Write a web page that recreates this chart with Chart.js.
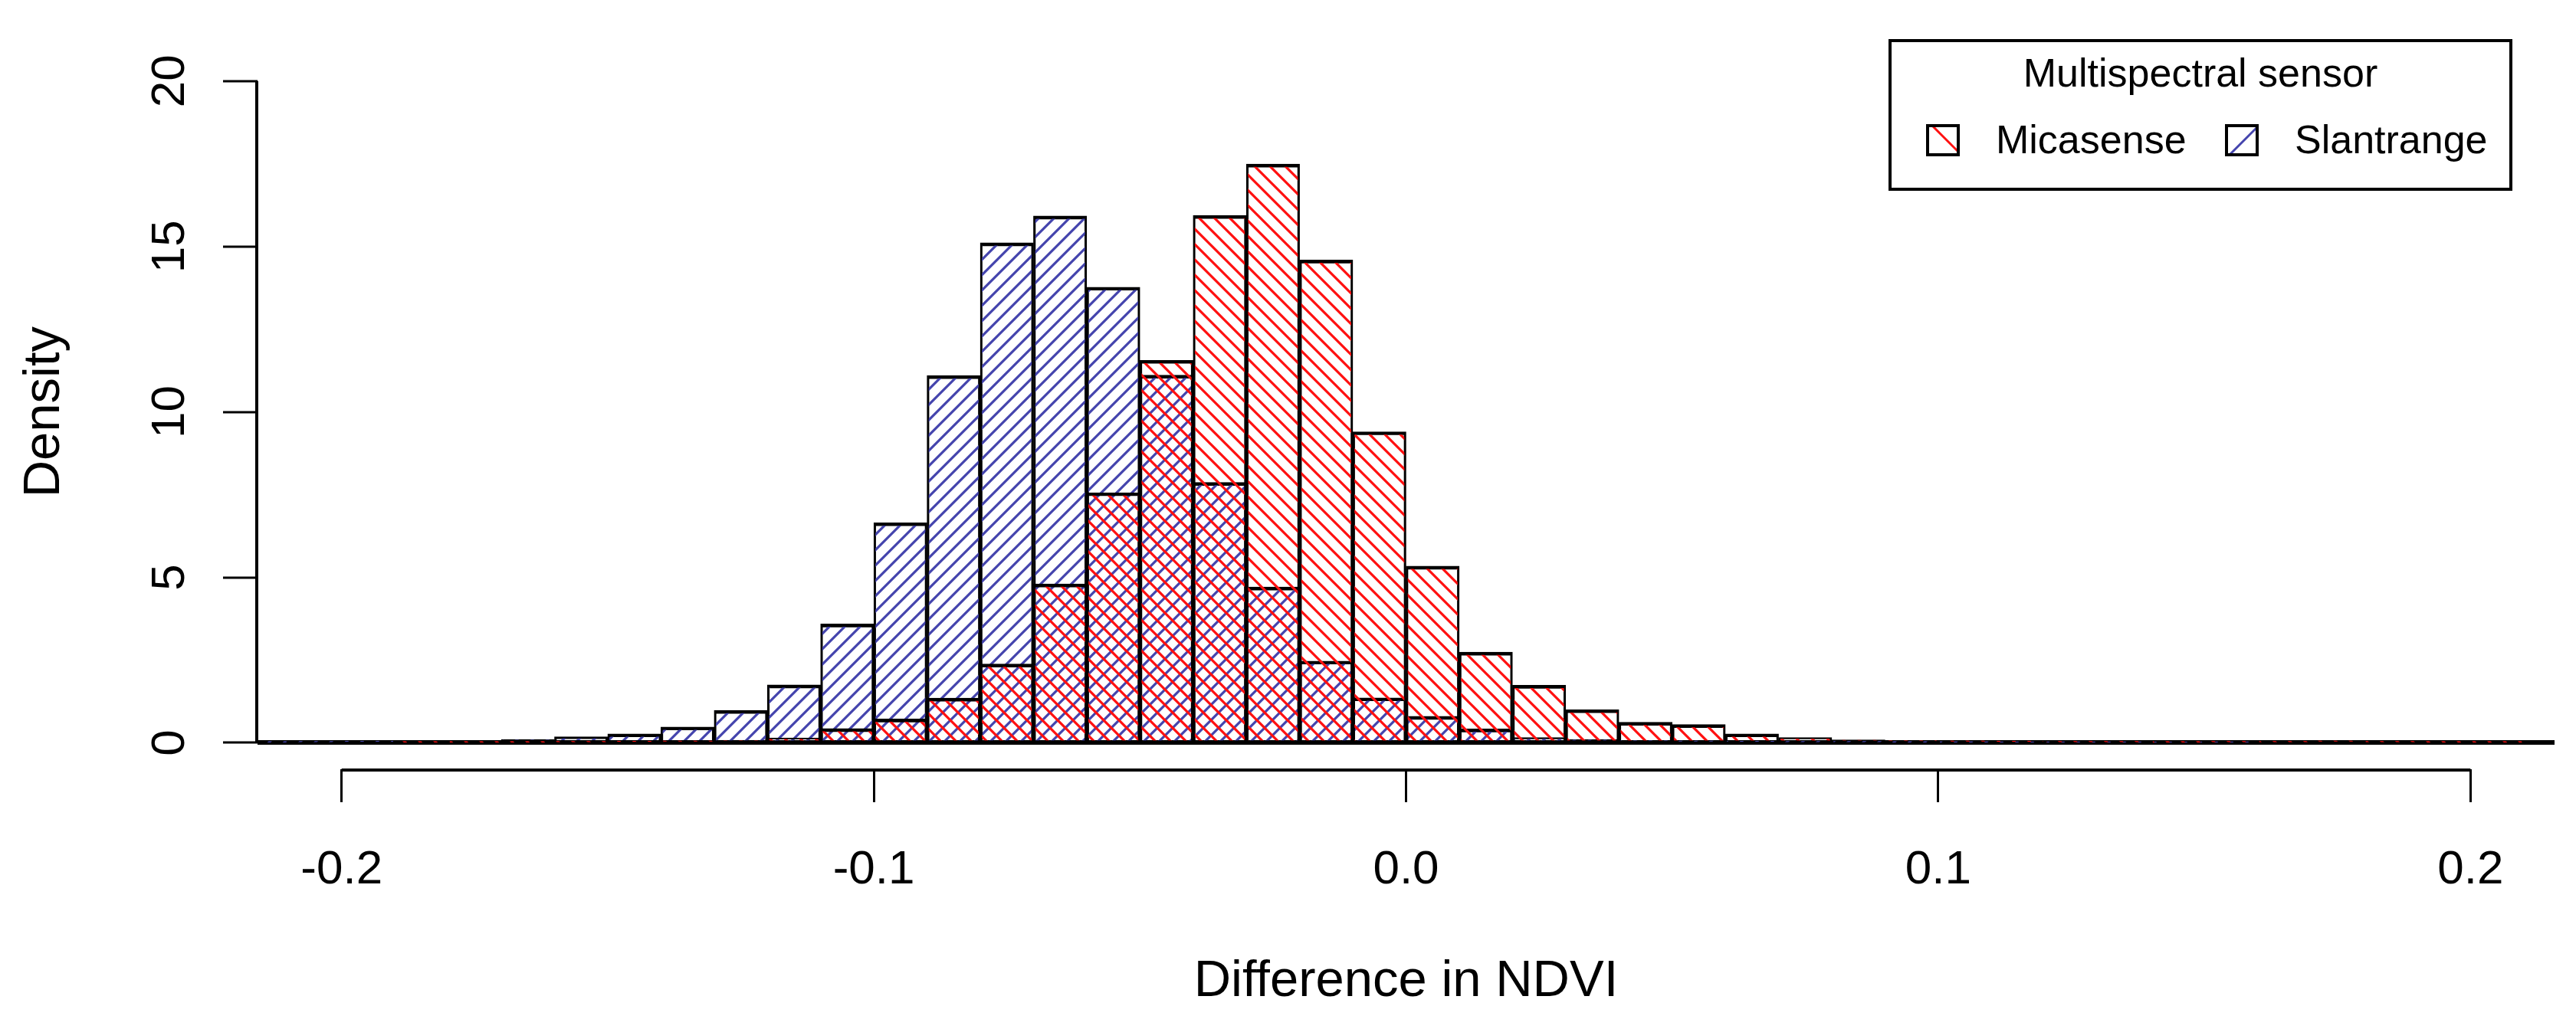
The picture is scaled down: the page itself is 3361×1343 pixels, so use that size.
<!DOCTYPE html>
<html>
<head>
<meta charset="utf-8">
<script src="https://cdn.jsdelivr.net/npm/chart.js@4/dist/chart.umd.min.js"></script>
<style>
  html, body { margin: 0; padding: 0; background: #fff; }
  #wrap { width: 3361px; height: 1343px; }
</style>
</head>
<body>
<div id="wrap"><canvas id="ndviChart" width="3361" height="1343"></canvas></div>
<script>
// histogram bins (width 0.01), given by their midpoints
const binMids = [
  -0.215, -0.205, -0.195, -0.185, -0.175, -0.165, -0.155, -0.145, -0.135, -0.125, -0.115,
  -0.105, -0.095, -0.085, -0.075, -0.065, -0.055, -0.045, -0.035, -0.025, -0.015, -0.005,
  0.005, 0.015, 0.025, 0.035, 0.045, 0.055, 0.065, 0.075, 0.085, 0.095, 0.105,
  0.115, 0.125, 0.135, 0.145, 0.155, 0.165, 0.175, 0.185, 0.195, 0.205, 0.215
];
// density per bin
const micasense = [
  0, 0, 0, 0.01, 0.01, 0.01, 0.02, 0.03, 0.04, 0.08, 0.15,
  0.43, 0.72, 1.35, 2.38, 4.80, 7.56, 11.56, 15.94, 17.49, 14.59, 9.40,
  5.34, 2.74, 1.74, 1.00, 0.62, 0.55, 0.27, 0.16, 0.09, 0.05, 0.04,
  0.03, 0.02, 0.02, 0.01, 0.02, 0.02, 0.04, 0.02, 0.01, 0.01, 0
];
const slantrange = [
  0.01, 0.02, 0.03, 0.04, 0.06, 0.10, 0.18, 0.27, 0.48, 0.98, 1.75,
  3.59, 6.65, 11.10, 15.11, 15.92, 13.77, 11.11, 7.87, 4.71, 2.47, 1.36,
  0.80, 0.42, 0.16, 0.10, 0.05, 0.04, 0.03, 0.02, 0.02, 0.01, 0.01,
  0.01, 0.01, 0.01, 0.01, 0.01, 0, 0, 0, 0, 0, 0
];
const seriesNames = ["Micasense", "Slantrange"];
const legendTitle = "Multispectral sensor";
const xTicks = [-0.2, -0.1, 0.0, 0.1, 0.2];
const yTicks = [0, 5, 10, 15, 20];

const FONT = "'Liberation Sans', Arial, Helvetica, sans-serif";
const hatchColors = ["#ff1010", "#4444ad"];
const hatchDirs = [-1, 1]; // -1 = "\", 1 = "/"

// diagonal line pattern like R's density shading
function hatch(color, dir) {
  const s = 20;
  const c = document.createElement("canvas");
  c.width = s;
  c.height = s;
  const g = c.getContext("2d");
  g.strokeStyle = color;
  g.lineWidth = 3.2;
  g.beginPath();
  for (let k = -1; k <= 2; k++) {
    if (dir > 0) {
      g.moveTo(-s, k * s + s);
      g.lineTo(k * s + s, -s);
    } else {
      g.moveTo(-s, k * s - s);
      g.lineTo(2 * s, k * s + 2 * s);
    }
  }
  g.stroke();
  return g.createPattern(c, "repeat");
}

const barStyle = {
  borderColor: "#000",
  borderWidth: { top: 4, left: 2.5, right: 2.5, bottom: 0 },
  borderSkipped: false,
  grouped: false,
  barPercentage: 1,
  categoryPercentage: 1,
};

// axis lines only between first and last tick, plus the boxed legend
const rDecor = {
  id: "rDecor",
  afterDraw(chart) {
    const { ctx } = chart;
    const x = chart.scales.x;
    const y = chart.scales.y;
    ctx.save();
    ctx.strokeStyle = "#000";
    ctx.lineWidth = 4;
    ctx.beginPath();
    ctx.moveTo(x.getPixelForValue(xTicks[0]), x.top + 1);
    ctx.lineTo(x.getPixelForValue(xTicks[xTicks.length - 1]), x.top + 1);
    ctx.moveTo(y.right - 1, y.getPixelForValue(yTicks[0]));
    ctx.lineTo(y.right - 1, y.getPixelForValue(yTicks[yTicks.length - 1]));
    ctx.stroke();

    // legend
    const box = { left: 2466, top: 53, width: 810, height: 194 };
    ctx.fillStyle = "#fff";
    ctx.fillRect(box.left, box.top, box.width, box.height);
    ctx.lineWidth = 4;
    ctx.strokeRect(box.left, box.top, box.width, box.height);
    ctx.fillStyle = "#000";
    ctx.font = "52px " + FONT;
    ctx.textBaseline = "middle";
    ctx.textAlign = "center";
    ctx.fillText(legendTitle, box.left + box.width / 2, 99);
    ctx.textAlign = "left";
    const swX = [2515, 2905];
    const txtX = [2604, 2994];
    chart.data.datasets.forEach((ds, i) => {
      const sx = swX[i], sy = 164, sw = 40, sh = 38;
      ctx.save();
      ctx.beginPath();
      ctx.rect(sx, sy, sw, sh);
      ctx.clip();
      ctx.strokeStyle = hatchColors[i];
      ctx.lineWidth = 3;
      ctx.beginPath();
      if (hatchDirs[i] > 0) {
        ctx.moveTo(sx + 4, sy + sh);
        ctx.lineTo(sx + sw, sy + 2);
      } else {
        ctx.moveTo(sx + 6, sy);
        ctx.lineTo(sx + sw, sy + sh - 4);
      }
      ctx.stroke();
      ctx.restore();
      ctx.strokeStyle = "#000";
      ctx.lineWidth = 4;
      ctx.strokeRect(sx, sy, sw, sh);
      ctx.fillStyle = "#000";
      ctx.fillText(ds.label, txtX[i], 186);
    });
    ctx.restore();
  },
};

new Chart(document.getElementById("ndviChart"), {
  type: "bar",
  data: {
    datasets: [
      Object.assign({
        label: seriesNames[0],
        data: binMids.map((m, i) => ({ x: m, y: micasense[i] })),
        backgroundColor: hatch(hatchColors[0], hatchDirs[0]),
      }, barStyle),
      Object.assign({
        label: seriesNames[1],
        data: binMids.map((m, i) => ({ x: m, y: slantrange[i] })),
        backgroundColor: hatch(hatchColors[1], hatchDirs[1]),
      }, barStyle),
    ],
  },
  options: {
    responsive: false,
    animation: false,
    layout: { padding: { top: 37, right: 28, left: 0, bottom: 0 } },
    plugins: { legend: { display: false }, tooltip: { enabled: false } },
    scales: {
      x: {
        type: "linear",
        min: -0.2158,
        max: 0.2158,
        offset: false,
        afterBuildTicks: (s) => { s.ticks = xTicks.map((v) => ({ value: v })); },
        afterFit: (s) => { s.height = 339; },
        border: { display: false },
        grid: {
          offset: false,
          drawOnChartArea: false,
          drawTicks: true,
          tickLength: 43,
          tickWidth: 3,
          tickColor: "#000",
        },
        ticks: {
          color: "#000",
          font: { family: FONT, size: 62 },
          padding: 52,
          maxRotation: 0,
          autoSkip: false,
          callback: (v) => Number(v).toFixed(1),
        },
        title: {
          display: true,
          text: "Difference in NDVI",
          color: "#000",
          font: { family: FONT, size: 67 },
          padding: { top: 0, bottom: 21 },
        },
      },
      y: {
        min: -0.8,
        max: 20.8,
        afterBuildTicks: (s) => { s.ticks = yTicks.map((v) => ({ value: v })); },
        afterFit: (s) => { s.width = 336; },
        border: { display: false },
        grid: {
          drawOnChartArea: true,
          color: (c) => (c.tick && c.tick.value === 0 ? "#000" : "rgba(0,0,0,0)"),
          lineWidth: (c) => (c.tick && c.tick.value === 0 ? 6 : 0),
          drawTicks: true,
          tickLength: 45,
          tickWidth: 3,
          tickColor: "#000",
        },
        ticks: {
          color: "#000",
          font: { family: FONT, size: 62 },
          padding: 34,
          minRotation: 90,
          maxRotation: 90,
          crossAlign: "center",
        },
        title: {
          display: true,
          text: "Density",
          color: "#000",
          font: { family: FONT, size: 67 },
          padding: { top: 18, bottom: 0 },
        },
      },
    },
  },
  plugins: [rDecor],
});
</script>
</body>
</html>
